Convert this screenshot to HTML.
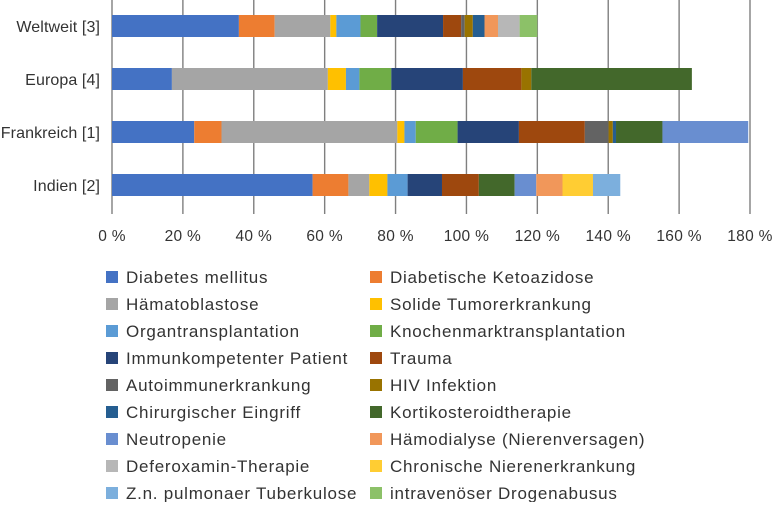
<!DOCTYPE html>
<html><head><meta charset="utf-8"><style>
body{margin:0;background:#fff;width:773px;height:502px;overflow:hidden;font-family:"Liberation Sans",sans-serif;}
svg text{font-family:"Liberation Sans",sans-serif;fill:#333;}
</style></head><body>
<svg id="c" width="773" height="502"></svg>
<script>
const categories=["Weltweit [3]","Europa [4]","Frankreich [1]","Indien [2]"];
const seriesNames=["Diabetes mellitus","Diabetische Ketoazidose","Hämatoblastose","Solide Tumorerkrankung","Organtransplantation","Knochenmarktransplantation","Immunkompetenter Patient","Trauma","Autoimmunerkrankung","HIV Infektion","Chirurgischer Eingriff","Kortikosteroidtherapie","Neutropenie","Hämodialyse (Nierenversagen)","Deferoxamin-Therapie","Chronische Nierenerkrankung","Z.n. pulmonaer Tuberkulose","intravenöser Drogenabusus"];
const colors=["#4472C4","#ED7D31","#A5A5A5","#FFC000","#5B9BD5","#70AD47","#264478","#9E480E","#636363","#997300","#255E91","#43682B","#698ED0","#F1975A","#B7B7B7","#FFCD33","#7CAFDD","#8CC168"];
// values per series: [Weltweit, Europa, Frankreich, Indien]
const sDM=[35.8,16.9,23.2,56.6];
const sDKA=[10.1,0,7.7,10.1];
const sHaem=[15.7,44.0,49.6,5.9];
const sSolid=[1.7,5.1,2.0,5.1];
const sOrgan=[6.8,3.8,3.2,5.7];
const sKnochen=[4.7,9.0,11.8,0];
const sImmun=[18.6,20.2,17.3,9.7];
const sTrauma=[5.1,16.5,18.6,10.4];
const sAuto=[1.0,0,6.7,0];
const sHIV=[2.3,2.8,1.2,0];
const sChir=[3.3,0,0.9,0];
const sKort=[0,45.3,13.1,10.1];
const sNeutro=[0,0,24.2,6.1];
const sDialyse=[3.8,0,0,7.4];
const sDefer=[6.1,0,0,0];
const sChron=[0,0,0,8.6];
const sTuber=[0,0,0,7.7];
const sDrogen=[5.0,0,0,0];
const series=[sDM,sDKA,sHaem,sSolid,sOrgan,sKnochen,sImmun,sTrauma,sAuto,sHIV,sChir,sKort,sNeutro,sDialyse,sDefer,sChron,sTuber,sDrogen];
const ticks=[0,20,40,60,80,100,120,140,160,180];
const NS="http://www.w3.org/2000/svg";
const svg=document.getElementById('c');
const x0=112,pxPer=(750-112)/180;
const X=v=>x0+v*pxPer;
const rowY=[26,79,132,185],barH=22;
function mk(t,a){const e=document.createElementNS(NS,t);for(const k in a)e.setAttribute(k,a[k]);svg.appendChild(e);return e;}
ticks.forEach(t=>{
 const l=mk('line',{x1:X(t),x2:X(t),y1:0,y2:214,stroke:'#7f7f7f','stroke-width':1.4});
 
 
 const tx=mk('text',{x:X(t),y:241,'text-anchor':'middle','font-size':15.5,'letter-spacing':0.3});
 tx.textContent=t+' %';
 
 
});
categories.forEach((c,i)=>{
 const t=mk('text',{x:100,y:rowY[i]+6,'text-anchor':'end','font-size':16,'letter-spacing':0.1});
 t.textContent=c;
 
 
 let acc=0;
 series.forEach((s,j)=>{
  const v=s[i]; if(!v) return;
  const r=mk('rect',{x:X(acc),y:rowY[i]-barH/2,width:X(acc+v)-X(acc),height:barH,fill:colors[j]});
  
  
  acc+=v;
 });
});
seriesNames.forEach((n,j)=>{
 const col=j%2,row=Math.floor(j/2);
 const sx=col?370:106,y=277+row*27;
 const r=mk('rect',{x:sx,y:y-6,width:12,height:12,fill:colors[j]});
 
 
 const t=mk('text',{x:sx+20,y:y+6,'font-size':17,'letter-spacing':0.75});
 t.textContent=n;
 
 
});
</script>
</body></html>
